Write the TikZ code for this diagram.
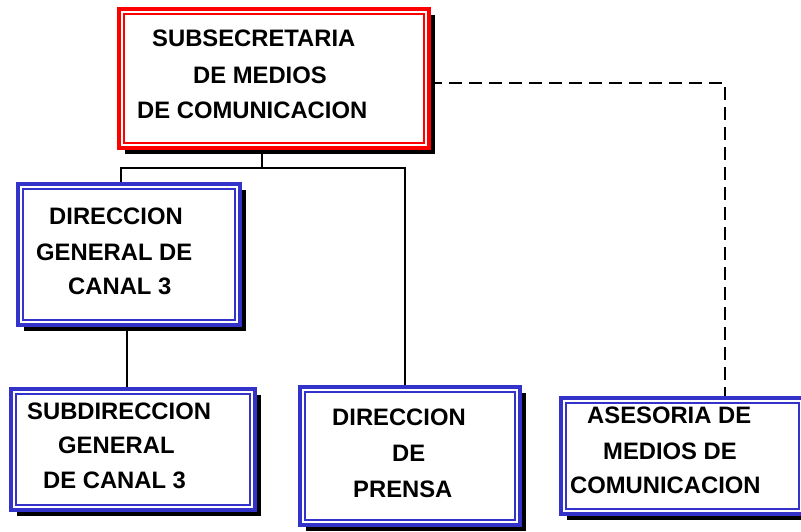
\documentclass[tikz,border=0pt]{standalone}
\usepackage{fontspec}
\setmainfont{Liberation Sans}
\usetikzlibrary{shadows,backgrounds,calc}
\definecolor{boxblue}{RGB}{51,51,204}
\definecolor{boxred}{RGB}{255,0,0}
\newcommand\insetline[2]{\draw[#2, line width=1.8pt] ([shift={(5pt,-5pt)}]#1.north west) rectangle ([shift={(-5pt,5pt)}]#1.south east);}
\begin{document}
\begin{tikzpicture}[x=1pt,y=-1pt,
  orgbox/.style={draw=#1, line width=4pt, fill=white, inner sep=0pt, outer sep=0pt,
    drop shadow={shadow xshift=6pt,shadow yshift=-6pt,fill=black,opacity=1}},
  lbl/.style={font=\bfseries\fontsize{23.8}{28}\selectfont, inner sep=0pt, anchor=base west},
  link/.style={line width=1.6pt, black}]
\useasboundingbox (0,0) rectangle (801,531);
\clip (0,0) rectangle (801,531);

% boxes
\node[orgbox=boxred, minimum width=310pt, minimum height=139pt] (top) at (274,78.5) {};
\insetline{top}{boxred}
\node[orgbox=boxblue, minimum width=222pt, minimum height=141pt] (dg) at (129,254.5) {};
\insetline{dg}{boxblue}
\node[orgbox=boxblue, minimum width=244pt, minimum height=121pt] (sd) at (133,449.5) {};
\insetline{sd}{boxblue}
\node[orgbox=boxblue, minimum width=220pt, minimum height=138pt] (pr) at (410,456) {};
\insetline{pr}{boxblue}
\node[orgbox=boxblue, minimum width=243pt, minimum height=116pt] (as) at (682.5,456) {};
\insetline{as}{boxblue}

% texts
\node[lbl] (t1) at (152,46) {SUBSECRETARIA};
\node[lbl] (t2) at (193,83) {DE MEDIOS};
\node[lbl] (t3) at (137,118) {DE COMUNICACION};
\node[lbl] (d1) at (49,224) {DIRECCION};
\node[lbl] (d2) at (36,260) {GENERAL DE};
\node[lbl] (d3) at (68,294) {CANAL 3};
\node[lbl] (s1) at (27,419) {SUBDIRECCION};
\node[lbl] (s2) at (58,453) {GENERAL};
\node[lbl] (s3) at (43,488) {DE CANAL 3};
\node[lbl] (p1) at (332,425) {DIRECCION};
\node[lbl] (p2) at (392,461) {DE};
\node[lbl] (p3) at (353,497) {PRENSA};
\node[lbl] (a1) at (587,423) {ASESORIA DE};
\node[lbl] (a2) at (603,459) {MEDIOS DE};
\node[lbl] (a3) at (570,493) {COMUNICACION};

% connectors
\coordinate (j) at (262,168);
\coordinate (bl) at (121,168);
\coordinate (br) at (405,168);
\coordinate (c2) at (127,350);
\coordinate (dc) at (725,83);
\begin{scope}[on background layer]
\fill[white] (0,0) rectangle (801,531);
\draw[link] (j |- top.south) -- (j);
\draw[link] (bl |- dg.north) -- (bl) -- (br) -- (br |- pr.north);
\draw[link] (c2 |- dg.south) -- (c2 |- sd.north);
\draw[link, dash pattern=on 13pt off 7pt] (top.east |- dc) -- (dc) -- (dc |- as.north);
\end{scope}
\end{tikzpicture}
\end{document}
